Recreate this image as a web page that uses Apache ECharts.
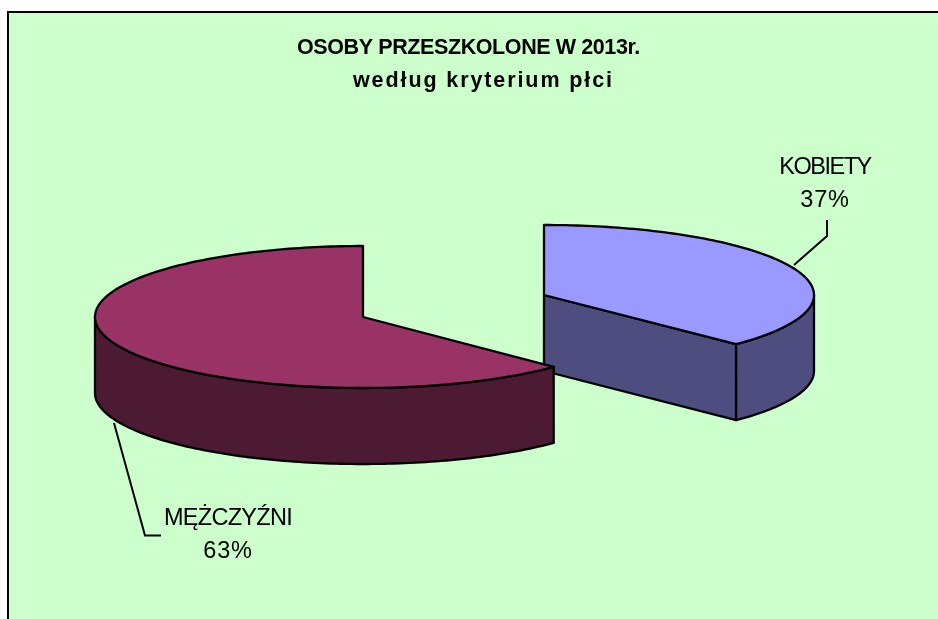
<!DOCTYPE html>
<html><head><meta charset="utf-8">
<style>html,body{margin:0;padding:0;background:#fff}#c{width:938px;height:619px}</style>
<script src="https://cdn.jsdelivr.net/npm/echarts@6/dist/echarts.min.js"></script>
</head><body><div id="c"></div>
<script>
// Data (the rim angles give about 37.4 / 62.6, printed rounded)
const categories = ['KOBIETY', 'MĘŻCZYŹNI'];
const shares = [37.4, 62.6];
const titleLine1 = 'OSOBY PRZESZKOLONE W 2013r.';
const titleLine2 = 'według kryterium płci';
const topColors = ['#9999FF', '#993366'];
const sideColors = ['#4D4D80', '#4D1A33'];

// Layout of the tilted pie, kept apart from the data
const sliceLayout = [
  {cx: 544, cy: 295, rx: 270, ry: 70},
  {cx: 363, cy: 317, rx: 268, ry: 71}
];
const depth = 76;
const labelLayout = [
  {x: 825, y: 184.5, line: [[827, 220], [827, 236], [794, 265]]},
  {x: 228, y: 535, line: [[114, 423], [145, 535.5], [161, 535.5]]}
];

// Letter spacing as in the reference (canvas text API)
const spacing = {};
spacing[titleLine2] = '1.9px';
spacing[titleLine1] = '-0.4px';
spacing['KOBIETY'] = '-1.5px';
spacing['MĘŻCZYŹNI'] = '-0.7px';
spacing['37%'] = '0.8px';
spacing['63%'] = '0.8px';
const origFill = CanvasRenderingContext2D.prototype.fillText;
CanvasRenderingContext2D.prototype.fillText = function (t, x, y, m) {
  const prev = this.letterSpacing;
  if (spacing[t]) this.letterSpacing = spacing[t];
  const r = m === undefined ? origFill.call(this, t, x, y) : origFill.call(this, t, x, y, m);
  this.letterSpacing = prev;
  return r;
};

const total = shares.reduce((a, b) => a + b, 0);
const startOf = i => shares.slice(0, i).reduce((a, b) => a + b, 0) / total * 2 * Math.PI;
const pt = (l, a, dy) => [l.cx + l.rx * Math.sin(a), l.cy - l.ry * Math.cos(a) + (dy || 0)];
const arc = (l, a, b, dy) => {
  const n = Math.max(2, Math.ceil((b - a) / 0.02)), out = [];
  for (let k = 0; k <= n; k++) out.push(pt(l, a + (b - a) * k / n, dy));
  return out;
};
const edge = {stroke: '#000', lineWidth: 2.3, lineJoin: 'round'};

function renderSlice(params, api) {
  const i = params.dataIndex;
  const l = sliceLayout[i];
  const a = startOf(i), b = a + api.value(0) / total * 2 * Math.PI;
  const ch = [];
  const side = {fill: sideColors[i], ...edge};
  const quad = ang => ({type: 'polygon', shape: {points: [
    [l.cx, l.cy], pt(l, ang), pt(l, ang, depth), [l.cx, l.cy + depth]]}, style: side});
  if (Math.sin(a) < -1e-6) ch.push(quad(a));
  if (Math.sin(b) > 1e-6) ch.push(quad(b));
  const ra = Math.max(a, Math.PI / 2), rb = Math.min(b, 3 * Math.PI / 2);
  if (rb > ra) {
    ch.push({type: 'polygon', shape: {points: arc(l, ra, rb, 0).concat(arc(l, ra, rb, depth).reverse())}, style: side});
  }
  ch.push({type: 'polygon', shape: {points: [[l.cx, l.cy]].concat(arc(l, a, b, 0))},
    style: {fill: topColors[i], ...edge}});
  const lab = labelLayout[i];
  ch.push({type: 'polyline', shape: {points: lab.line}, style: {fill: 'none', stroke: '#000', lineWidth: 2}});
  ch.push({type: 'text', x: lab.x, y: lab.y, style: {
    text: categories[i] + '\n' + Math.round(api.value(0) / total * 100) + '%',
    fill: '#000', font: '23.5px "Liberation Sans"', lineHeight: 33, align: 'center', verticalAlign: 'middle'}});
  return {type: 'group', children: ch};
}

const chart = echarts.init(document.getElementById('c'), null, {renderer: 'canvas'});
chart.setOption({
  animation: false,
  backgroundColor: '#fff',
  graphic: [{type: 'rect', silent: true, z: 0,
    shape: {x: 8, y: 12, width: 1000, height: 700},
    style: {fill: '#CCFFCC', stroke: '#000', lineWidth: 2}}],
  title: [
    {text: titleLine1, left: 297, top: 37, textStyle: {fontFamily: 'Liberation Sans', fontWeight: 'bold', fontSize: 21.5, color: '#000'}, padding: 0},
    {text: titleLine2, left: 353, top: 70, textStyle: {fontFamily: 'Liberation Sans', fontWeight: 'bold', fontSize: 21.5, color: '#000'}, padding: 0}
  ],
  series: [{
    type: 'custom',
    coordinateSystem: 'none',
    renderItem: renderSlice,
    data: shares.map((v, i) => ({name: categories[i], value: v}))
  }]
});
</script></body></html>
